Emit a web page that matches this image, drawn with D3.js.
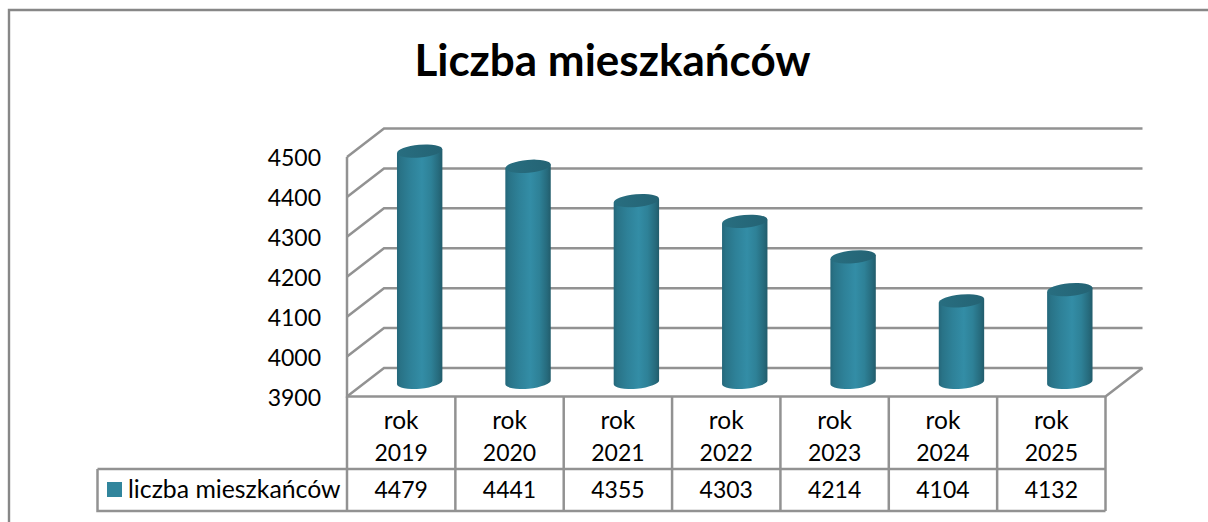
<!DOCTYPE html>
<html><head><meta charset="utf-8">
<script src="https://cdn.jsdelivr.net/npm/d3@7/dist/d3.min.js"></script>
<style>html,body{margin:0;padding:0;background:#fff}svg{display:block}text{font-family:Lato,Carlito,sans-serif;fill:#000}</style>
</head><body><svg id="c" width="1208" height="522"></svg>
<script>
const title = "Liczba mieszkańców";
const seriesName = "liczba mieszkańców";
const categories = ["rok 2019","rok 2020","rok 2021","rok 2022","rok 2023","rok 2024","rok 2025"];
const values = [4479,4441,4355,4303,4214,4104,4132];
const yTicks = [3900,4000,4100,4200,4300,4400,4500];

const svg = d3.select("#c");
const W=1208,H=522, dx=37, dy=-28.5;
const grey="#929292";
const y = d3.scaleLinear().domain([3900,4500]).range([396.5,157]);
const x = d3.scaleBand().domain(categories).range([347,1105.5]);

const defs = svg.append("defs");
const g = defs.append("linearGradient").attr("id","cyl");
[[0,"#25677a"],[0.08,"#297387"],[0.3,"#2e8198"],[0.55,"#338da6"],[0.75,"#2e8197"],[0.92,"#266a7c"],[1,"#225c6b"]]
 .forEach(([o,c])=>g.append("stop").attr("offset",o).attr("stop-color",c));
const t = defs.append("linearGradient").attr("id","capg").attr("x1",0).attr("x2",1).attr("y1",0).attr("y2",0);
[[0,"#286e80"],[1,"#246374"]].forEach(([o,c])=>t.append("stop").attr("offset",o).attr("stop-color",c));

// chart frame: open at the right and bottom
svg.append("path").attr("d",`M9,${H}V10H${W}`).attr("fill","none").attr("stroke","#878787").attr("stroke-width",2.4);

svg.append("text").attr("x",612.5).attr("y",76).attr("text-anchor","middle")
  .attr("font-size",44).attr("font-weight",700).text(title);

// walls
const wall = svg.append("g").attr("fill","none").attr("stroke",grey).attr("stroke-width",2.5);
wall.selectAll("path.grid").data(yTicks).join("path").attr("class","grid")
  .attr("d",d=>`M${x.range()[0]},${y(d)}l${dx},${dy}H${x.range()[1]+dx}`);
wall.append("path").attr("d",`M${x.range()[0]},${y(4500)}V${y(3900)}H${x.range()[1]}l${dx},${dy}`);

// axis labels
const axis = svg.append("g").attr("transform","translate(331,0)")
  .call(d3.axisLeft(y).tickValues(yTicks).tickSize(0).tickPadding(10).tickFormat(d3.format("d")));
axis.select(".domain").remove();
axis.selectAll("text").attr("font-size",23).attr("font-family","Lato").attr("fill","#000").attr("dy","0.38em");

// cylinders
const rx=22.7, ry=6.4, tilt=-5, baseShift=dy/2;
const bx=d=>x(d.c)+x.bandwidth()/2+dx/2;
const data=categories.map((c,i)=>({c,v:values[i]}));
const bars=svg.append("g").selectAll("g").data(data).join("g");
bars.append("path").attr("fill","url(#cyl)").attr("d",d=>{
  const cx=bx(d), b=y(3900)+baseShift, tp=y(d.v)+baseShift, sl=Math.tan(-tilt*Math.PI/180)*rx;
  return `M${cx-rx},${tp+sl}L${cx+rx},${tp-sl}L${cx+rx},${b-sl}A${rx},${ry} ${tilt} 0 1 ${cx-rx},${b+sl}Z`;
});
bars.append("ellipse").attr("fill","url(#capg)").attr("rx",rx).attr("ry",ry)
  .attr("transform",d=>`translate(${bx(d)},${y(d.v)+baseShift}) rotate(${tilt})`);

// data table
const rowY=469, botY=511, legL=97.5, tbl=svg.append("g").attr("fill","none").attr("stroke",grey).attr("stroke-width",2.5);
tbl.append("path").attr("d",`M${legL},${rowY}H${x.range()[1]}M${legL},${rowY}V${botY}H${x.range()[1]}`);
const edges=[...categories.map(c=>x(c)),x.range()[1]];
tbl.selectAll("line").data(edges).join("line").attr("x1",d=>d).attr("x2",d=>d).attr("y1",y(3900)).attr("y2",botY);

const labels=svg.append("g").attr("text-anchor","middle").attr("font-size",23);
const cx=d=>x(d.c)+x.bandwidth()/2;
labels.selectAll("text.a").data(data).join("text").attr("class","a").attr("x",cx).attr("y",429).attr("font-size",24.5).text(d=>d.c.split(" ")[0]);
labels.selectAll("text.b").data(data).join("text").attr("class","b").attr("x",cx).attr("y",461).text(d=>d.c.split(" ")[1]);
labels.selectAll("text.c").data(data).join("text").attr("class","c").attr("x",cx).attr("y",498).text(d=>d.v);

svg.append("rect").attr("x",107).attr("y",482).attr("width",15).attr("height",15).attr("fill","#31859c");
svg.append("text").attr("x",128).attr("y",498).attr("font-size",24.8).text(seriesName);
</script></body></html>
